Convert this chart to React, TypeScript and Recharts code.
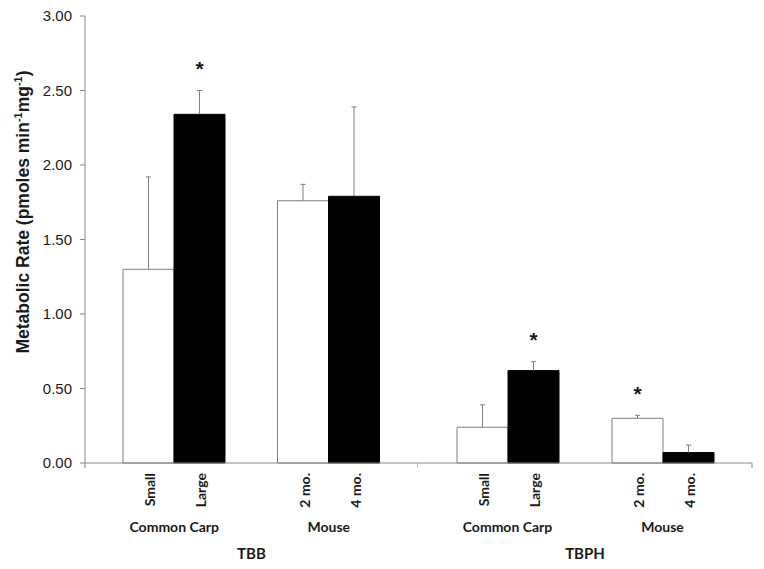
import React from "react"
import { BarChart, Bar, XAxis, YAxis, LabelList } from "recharts"

// categories inside each compound group
const species = ["Common Carp", "Mouse"]
const whiteLabels = ["Small", "2 mo."]
const blackLabels = ["Large", "4 mo."]
const yTicks = [0, 0.5, 1, 1.5, 2, 2.5, 3]

// TBB
const tbbWhite = [1.3, 1.76]
const tbbWhiteErr = [0.62, 0.11]
const tbbWhiteSig = [false, false]
const tbbBlack = [2.34, 1.79]
const tbbBlackErr = [0.16, 0.6]
const tbbBlackSig = [true, false]

// TBPH
const tbphWhite = [0.24, 0.3]
const tbphWhiteErr = [0.15, 0.02]
const tbphWhiteSig = [false, true]
const tbphBlack = [0.62, 0.07]
const tbphBlackErr = [0.06, 0.05]
const tbphBlackSig = [true, false]

const H = 569
const TOP = 16
const BOTTOM = 106
const Y_AXIS_W = 85
const MID_X = 418
const RIGHT_X = 752
const PAD = 12
const BAR = 51
const AXIS = "#868686"
const INK = "#1a1a1a"
const CAT_FONT = "Lato, 'Open Sans', sans-serif"
const NUM_FONT = "'Liberation Sans', Arial, sans-serif"

function build(white: number[], whiteErr: number[], whiteSig: boolean[], black: number[], blackErr: number[], blackSig: boolean[]) {
  return species.map((s, i) => ({
    name: s,
    white: white[i],
    whiteErr: whiteErr[i],
    whiteSig: whiteSig[i],
    black: black[i],
    blackErr: blackErr[i],
    blackSig: blackSig[i],
  }))
}

function makeTick(first: boolean, last: boolean) {
  return function SpeciesTick(props: any) {
    const { x, y, payload, visibleTicksCount } = props
    const i = payload.index
    const half = payload.offset ?? 77
    const n = visibleTicksCount ?? species.length
    return (
      <g>
        {first && i === 0 && <line x1={x - half - PAD} x2={x - half - PAD} y1={y} y2={y + 5} stroke={AXIS} />}
        {last && i === n - 1 && <line x1={x + half + PAD} x2={x + half + PAD} y1={y} y2={y + 5} stroke={AXIS} />}
        {[whiteLabels[i], blackLabels[i]].map((t, k) => (
          <text
            key={k}
            transform={`translate(${x + (k === 0 ? -BAR / 2 : BAR / 2) + 1},${y + 10}) rotate(-90)`}
            textAnchor="end"
            dominantBaseline="central"
            fontFamily={CAT_FONT}
            fontWeight={700}
            fontSize={14}
            fill={INK}
          >
            {t}
          </text>
        ))}
        <text x={x} y={y + 69} textAnchor="middle" fontFamily={CAT_FONT} fontWeight={700} fontSize={14} fill={INK}>
          {payload.value}
        </text>
      </g>
    )
  }
}

// plus-only error bar and significance star, sized from the bar's own scale
function ErrAndStar(errKey: string, sigKey: string, rows: any[]) {
  return function ErrLabel(props: any) {
    const { x, y, width, height, value, index } = props
    const row = rows[index]
    if (!row || !value) return null
    const perUnit = height / value
    const cx = x + width / 2
    const errTop = y - row[errKey] * perUnit
    return (
      <g>
        <line x1={cx} x2={cx} y1={y} y2={errTop} stroke="#7f7f7f" />
        <line x1={cx - 2.5} x2={cx + 2.5} y1={errTop} y2={errTop} stroke="#7f7f7f" />
        {row[sigKey] && (
          <text x={cx} y={errTop - 14.5} textAnchor="middle" fontFamily={NUM_FONT} fontWeight={700} fontSize={21} fill={INK}>
            *
          </text>
        )}
      </g>
    )
  }
}

function YLabel(props: any) {
  const vb = props.viewBox || { x: 0 }
  const cx = vb.x + 23
  const cy = 212
  return (
    <text
      transform={`translate(${cx},${cy}) rotate(-90)`}
      textAnchor="middle"
      dominantBaseline="central"
      fontFamily={NUM_FONT}
      fontWeight={700}
      fontSize={17.5}
      fill={INK}
    >
      Metabolic Rate (pmoles min
      <tspan dy={-5} fontSize={11}>-1</tspan>
      <tspan dy={5}>mg</tspan>
      <tspan dy={-5} fontSize={11}>-1</tspan>
      <tspan dy={5}>)</tspan>
    </text>
  )
}

function Panel({ rows, title, withAxis, width, right }: { rows: any[]; title: string; withAxis: boolean; width: number; right: number }) {
  return (
    <BarChart width={width} height={H} data={rows} margin={{ top: TOP, right, bottom: 0, left: 0 }} barGap={0} barSize={BAR}>
      <YAxis
        hide={!withAxis}
        width={Y_AXIS_W}
        domain={[0, 3]}
        ticks={yTicks}
        interval={0}
        tickFormatter={(v: number) => v.toFixed(2)}
        tick={{ fontFamily: NUM_FONT, fontSize: 15, fill: INK }}
        tickSize={5}
        tickMargin={8}
        stroke={AXIS}
        axisLine={{ stroke: AXIS }}
        tickLine={{ stroke: AXIS }}
        label={withAxis ? <YLabel /> : undefined}
      />
      <XAxis
        dataKey="name"
        height={BOTTOM}
        padding={{ left: PAD, right: PAD }}
        interval={0}
        tickLine={false}
        tickSize={0}
        tickMargin={0}
        axisLine={{ stroke: AXIS }}
        tick={makeTick(withAxis, true)}
        label={{ value: title, position: "insideBottom", offset: 10, fontFamily: CAT_FONT, fontWeight: 700, fontSize: 15, fill: INK }}
      />
      <Bar dataKey="white" fill="#ffffff" stroke="#7f7f7f" strokeWidth={1} isAnimationActive={false}>
        <LabelList dataKey="white" content={ErrAndStar("whiteErr", "whiteSig", rows)} />
      </Bar>
      <Bar dataKey="black" fill="#000000" stroke="#000000" strokeWidth={1} isAnimationActive={false}>
        <LabelList dataKey="black" content={ErrAndStar("blackErr", "blackSig", rows)} />
      </Bar>
    </BarChart>
  )
}

export default function App() {
  const tbb = build(tbbWhite, tbbWhiteErr, tbbWhiteSig, tbbBlack, tbbBlackErr, tbbBlackSig)
  const tbph = build(tbphWhite, tbphWhiteErr, tbphWhiteSig, tbphBlack, tbphBlackErr, tbphBlackSig)
  return (
    <div style={{ position: "fixed", left: 0, top: 0, width: 764, height: H, background: "#fff" }}>
      <div style={{ position: "absolute", left: 0, top: 0 }}>
        <Panel rows={tbb} title="TBB" withAxis={true} width={MID_X} right={0} />
      </div>
      <div style={{ position: "absolute", left: MID_X, top: 0 }}>
        <Panel rows={tbph} title="TBPH" withAxis={false} width={764 - MID_X} right={764 - RIGHT_X} />
      </div>
    </div>
  )
}
